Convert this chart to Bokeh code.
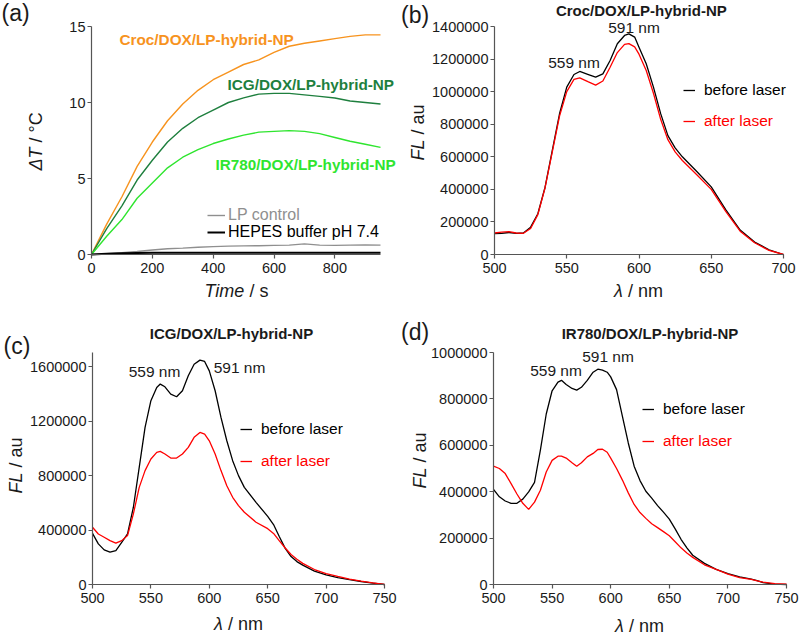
from bokeh.plotting import figure
from bokeh.layouts import column, row
from bokeh.models import Label, Legend, LegendItem, Range1d, FixedTicker, BasicTickFormatter
from bokeh.embed import file_html
from bokeh.resources import INLINE

# ---------------- data ----------------
# (a) photothermal heating
time_s = [0, 50, 100, 150, 200, 250, 300, 350, 400, 450, 500, 550, 600, 650, 700, 750, 800, 850, 900, 950]
dT_croc = [0, 2.0, 3.8, 5.8, 7.4, 8.8, 9.9, 10.8, 11.5, 12.0, 12.5, 12.8, 13.3, 13.7, 13.9, 14.05, 14.2, 14.35, 14.45, 14.45]
dT_icg = [0, 1.7, 3.2, 4.9, 6.2, 7.4, 8.3, 9.0, 9.5, 10.0, 10.3, 10.55, 10.6, 10.6, 10.5, 10.4, 10.3, 10.1, 10.0, 9.9]
dT_ir780 = [0, 1.2, 2.3, 3.7, 4.7, 5.7, 6.4, 6.9, 7.3, 7.6, 7.85, 8.05, 8.1, 8.15, 8.1, 7.95, 7.7, 7.45, 7.25, 7.05]
dT_lp = [0, 0.05, 0.12, 0.2, 0.3, 0.38, 0.42, 0.48, 0.52, 0.55, 0.57, 0.58, 0.6, 0.62, 0.7, 0.62, 0.6, 0.62, 0.63, 0.62]
dT_hepes = [0, 0.05, 0.08, 0.1, 0.11, 0.12, 0.12, 0.12, 0.12, 0.12, 0.12, 0.12, 0.12, 0.12, 0.12, 0.12, 0.12, 0.12, 0.12, 0.12]

# (b) Croc/DOX/LP-hybrid-NP fluorescence
wl_b = [500, 505, 510, 515, 520, 525, 530, 535, 540, 545, 550, 555, 559, 565, 570, 575, 580, 585, 590, 593, 597, 600,
        605, 610, 615, 620, 625, 630, 640, 650, 660, 670, 680, 690, 700]
fl_b_before = [128e3, 130e3, 135e3, 130e3, 132e3, 168e3, 250e3, 413e3, 639e3, 864e3, 1028e3, 1105e3, 1124e3, 1105e3,
               1089e3, 1109e3, 1191e3, 1294e3, 1345e3, 1355e3, 1335e3, 1273e3, 1171e3, 1028e3, 865e3, 730e3, 655e3,
               600e3, 510e3, 415e3, 275e3, 150e3, 76e3, 29e3, 0]
fl_b_after = [132e3, 138e3, 140e3, 132e3, 130e3, 160e3, 245e3, 410e3, 630e3, 850e3, 1000e3, 1075e3, 1085e3, 1060e3,
              1040e3, 1065e3, 1150e3, 1240e3, 1290e3, 1295e3, 1275e3, 1230e3, 1130e3, 990e3, 830e3, 705e3, 630e3,
              577e3, 490e3, 400e3, 265e3, 143e3, 72e3, 25e3, 0]

# (c) ICG/DOX/LP-hybrid-NP fluorescence
wl_c = [500, 505, 510, 515, 520, 525, 530, 535, 540, 545, 550, 555, 558, 562, 567, 572, 577, 582, 587, 592, 596, 600,
        605, 610, 615, 620, 625, 630, 640, 650, 655, 660, 665, 670, 675, 680, 690, 700, 710, 720, 730, 740, 750]
fl_c_before = [375e3, 298e3, 254e3, 237e3, 249e3, 310e3, 371e3, 567e3, 860e3, 1153e3, 1349e3, 1446e3, 1471e3, 1451e3,
               1397e3, 1378e3, 1422e3, 1532e3, 1617e3, 1647e3, 1637e3, 1568e3, 1422e3, 1226e3, 1055e3, 909e3, 799e3,
               713e3, 603e3, 500e3, 440e3, 350e3, 265e3, 205e3, 168e3, 142e3, 98e3, 70e3, 50e3, 35e3, 22e3, 10e3, 0]
fl_c_after = [420e3, 371e3, 347e3, 322e3, 303e3, 322e3, 359e3, 518e3, 713e3, 836e3, 921e3, 970e3, 977e3, 958e3,
              928e3, 928e3, 958e3, 1006e3, 1080e3, 1116e3, 1104e3, 1055e3, 958e3, 836e3, 725e3, 640e3, 579e3,
              530e3, 457e3, 410e3, 375e3, 320e3, 268e3, 220e3, 185e3, 155e3, 110e3, 80e3, 59e3, 39e3, 24e3, 12e3, 0]

# (d) IR780/DOX/LP-hybrid-NP fluorescence
wl_d = [500, 505, 510, 515, 520, 525, 530, 535, 540, 545, 550, 555, 558, 562, 567, 571, 575, 580, 585, 589, 593, 597,
        600, 605, 610, 615, 620, 625, 630, 635, 640, 645, 650, 655, 660, 665, 670, 680, 690, 700, 710, 720, 725, 730,
        740, 750]
fl_d_before = [410e3, 378e3, 360e3, 350e3, 350e3, 368e3, 399e3, 440e3, 579e3, 735e3, 835e3, 872e3, 880e3, 862e3,
               845e3, 838e3, 850e3, 880e3, 915e3, 928e3, 924e3, 915e3, 895e3, 840e3, 725e3, 610e3, 510e3, 448e3,
               402e3, 372e3, 340e3, 312e3, 282e3, 240e3, 195e3, 158e3, 126e3, 91e3, 65e3, 47e3, 33e3, 23e3, 17e3,
               8e3, 2e3, 0]
fl_d_after = [510e3, 500e3, 478e3, 435e3, 390e3, 350e3, 324e3, 355e3, 406e3, 485e3, 535e3, 553e3, 553e3, 545e3,
              525e3, 510e3, 525e3, 550e3, 565e3, 582e3, 583e3, 570e3, 545e3, 500e3, 450e3, 395e3, 345e3, 310e3,
              285e3, 262e3, 245e3, 228e3, 210e3, 184e3, 158e3, 136e3, 117e3, 85e3, 65e3, 45e3, 30e3, 22e3, 16e3,
              10e3, 4e3, 1e3]

# ---------------- styling ----------------
FONT = "Liberation Sans"
AXIS = "#555555"
TXT = "#1a1a1a"
ORANGE = "#F7931E"
DKGREEN = "#1E7F3E"
LTGREEN = "#2FE52F"
GRAY = "#8f8f8f"
RED = "#FF0000"


class Panel:
    """A figure whose frame fills the whole canvas; axes are pinned inside it."""

    def __init__(self, ox, oy, w, h, xdat, xpix, ydat, ypix, xticks, yticks, xbounds, ybounds):
        self.ox, self.oy, self.w, self.h = ox, oy, w, h
        (x0, x1), (px0, px1) = xdat, xpix
        (y0, y1), (py0, py1) = ydat, ypix
        sx = (x1 - x0) / (px1 - px0)
        sy = (y1 - y0) / (py0 - py1)
        xr = Range1d(x0 - (px0 - ox) * sx, x1 + (ox + w - px1) * sx)
        yr = Range1d(y0 - (oy + h - py0) * sy, y1 + (py1 - oy) * sy)
        p = figure(width=w, height=h, output_backend="svg", toolbar_location=None,
                   x_range=xr, y_range=yr, min_border=0,
                   min_border_left=0, min_border_right=0, min_border_top=0, min_border_bottom=0)
        p.outline_line_color = None
        p.grid.visible = False
        for ax in (p.xaxis[0], p.yaxis[0]):
            ax.axis_line_color = AXIS
            ax.axis_line_width = 1.2
            ax.major_tick_line_color = AXIS
            ax.major_tick_line_width = 1.2
            ax.major_tick_in = 0
            ax.major_tick_out = 4
            ax.minor_tick_line_color = None
            ax.major_label_text_font = FONT
            ax.major_label_text_font_size = "14.5px"
            ax.major_label_text_color = TXT
            ax.formatter = BasicTickFormatter(use_scientific=False)
        p.xaxis[0].ticker = FixedTicker(ticks=xticks)
        p.yaxis[0].ticker = FixedTicker(ticks=yticks)
        p.xaxis[0].fixed_location = y0
        p.yaxis[0].fixed_location = x0
        p.xaxis[0].bounds = xbounds
        p.yaxis[0].bounds = ybounds
        p.xaxis[0].major_label_standoff = 4
        p.yaxis[0].major_label_standoff = 2
        self.p = p

    def sx(self, px):
        return px - self.ox

    def sy(self, py):
        return self.oy + self.h - py

    def text(self, px, py, text, size, color=TXT, style="normal", align="left", angle=0):
        self.p.add_layout(Label(x=self.sx(px), y=self.sy(py), x_units="screen", y_units="screen",
                                text=text, text_font=FONT, text_font_size=size, text_color=color,
                                text_font_style=style, text_align=align, text_baseline="middle",
                                angle=angle, angle_units="deg"))

    def legend(self, renderer, label, glyph_left, cy, color, size="15.5px", gw=12, standoff=9):
        self.p.add_layout(Legend(items=[LegendItem(label=label, renderers=[renderer])],
                                 location=(self.sx(glyph_left), self.sy(cy + 8)),
                                 padding=0, margin=0, spacing=0, border_line_color=None,
                                 background_fill_alpha=0, glyph_width=gw, glyph_height=16,
                                 label_height=16, label_standoff=standoff,
                                 label_text_font=FONT, label_text_font_size=size,
                                 label_text_color=color))

    def xlabel(self, px, py, italic, rest):
        # italic symbol, then (after one space) the upright unit part
        self.text(px, py, italic, "18px", style="italic")
        w = {"Time": 40, "λ": 9}[italic] + 5
        self.text(px + w, py, rest, "18px")

    def ylabel(self, px, py, italic, rest):
        self.text(px, py, italic, "18px", style="italic", angle=90)
        w = {"ΔT": 23, "FL": 21}[italic] + 5
        self.text(px, py - w, rest, "18px", angle=90)


# ---------------- (a) ----------------
A = Panel(0, 0, 400, 300, (0, 950), (91, 380), (0, 15), (254, 26),
          [0, 200, 400, 600, 800], [0, 5, 10, 15], (0, 950), (0, 15))
pa = A.p
pa.line(time_s, dT_croc, line_color=ORANGE, line_width=1.4)
pa.line(time_s, dT_icg, line_color=DKGREEN, line_width=1.4)
pa.line(time_s, dT_ir780, line_color=LTGREEN, line_width=1.4)
r_lp = pa.line(time_s, dT_lp, line_color=GRAY, line_width=1.4)
r_hep = pa.line(time_s, dT_hepes, line_color="black", line_width=2)
A.text(119, 38.5, "Croc/DOX/LP-hybrid-NP", "15.3px", color=ORANGE, style="bold")
A.text(227, 84, "ICG/DOX/LP-hybrid-NP", "15.3px", color=DKGREEN, style="bold")
A.text(215, 164, "IR780/DOX/LP-hybrid-NP", "15.3px", color=LTGREEN, style="bold")
A.legend(r_lp, "LP control", 207, 216, GRAY, size="16px", gw=18, standoff=3)
A.legend(r_hep, "HEPES buffer pH 7.4", 207, 232.5, "black", size="16px", gw=18, standoff=3)
A.ylabel(35, 170, "ΔT", "/ °C")
A.xlabel(204, 290, "Time", "/ s")
A.text(1, 12.5, "(a)", "23px")

# ---------------- (b) ----------------
B = Panel(400, 0, 400, 300, (500, 700), (494, 783), (0, 1400000), (254, 26),
          [500, 550, 600, 650, 700], [0, 200000, 400000, 600000, 800000, 1000000, 1200000, 1400000],
          (500, 700), (0, 1400000))
pb = B.p
rb1 = pb.line(wl_b, fl_b_before, line_color="black", line_width=1.3)
rb2 = pb.line(wl_b, fl_b_after, line_color=RED, line_width=1.3)
B.legend(rb1, "before laser", 683, 91, "black")
B.legend(rb2, "after laser", 683, 122, RED)
B.text(573.5, 62, "559 nm", "15.5px", align="center")
B.text(633.5, 27, "591 nm", "15.5px", align="center")
B.text(640.8, 9.5, "Croc/DOX/LP-hybrid-NP", "15px", style="bold", align="center")
B.ylabel(417, 160, "FL", "/ au")
B.xlabel(613.5, 290, "λ", "/ nm")
B.text(400.5, 14, "(b)", "23px")

# ---------------- (c) ----------------
C = Panel(0, 300, 400, 334, (500, 750), (92, 384), (0, 1600000), (584, 366),
          [500, 550, 600, 650, 700, 750], [0, 400000, 800000, 1200000, 1600000],
          (500, 750), (0, 1700000))
pc = C.p
rc1 = pc.line(wl_c, fl_c_before, line_color="black", line_width=1.3)
rc2 = pc.line(wl_c, fl_c_after, line_color=RED, line_width=1.3)
C.legend(rc1, "before laser", 240, 430, "black")
C.legend(rc2, "after laser", 240, 462, RED)
C.text(154, 371, "559 nm", "15.5px", align="center")
C.text(239, 367, "591 nm", "15.5px", align="center")
C.text(231, 333, "ICG/DOX/LP-hybrid-NP", "15px", style="bold", align="center")
C.ylabel(15, 493, "FL", "/ au")
C.xlabel(213.5, 623, "λ", "/ nm")
C.text(3, 345, "(c)", "23px")

# ---------------- (d) ----------------
D = Panel(400, 300, 400, 334, (500, 750), (493, 786), (0, 1000000), (584, 352),
          [500, 550, 600, 650, 700, 750], [0, 200000, 400000, 600000, 800000, 1000000],
          (500, 750), (0, 1000000))
pd_ = D.p
rd1 = pd_.line(wl_d, fl_d_before, line_color="black", line_width=1.3)
rd2 = pd_.line(wl_d, fl_d_after, line_color=RED, line_width=1.3)
D.legend(rd1, "before laser", 642, 410, "black")
D.legend(rd2, "after laser", 642, 442, RED)
D.text(555.5, 370, "559 nm", "15.5px", align="center")
D.text(607.5, 356, "591 nm", "15.5px", align="center")
D.text(649.5, 333, "IR780/DOX/LP-hybrid-NP", "15px", style="bold", align="center")
D.ylabel(419, 488, "FL", "/ au")
D.xlabel(614.5, 625, "λ", "/ nm")
D.text(400.5, 331, "(d)", "23px")

layout = column(row(pa, pb), row(pc, pd_))
open("out.html", "w").write(file_html(layout, INLINE))
